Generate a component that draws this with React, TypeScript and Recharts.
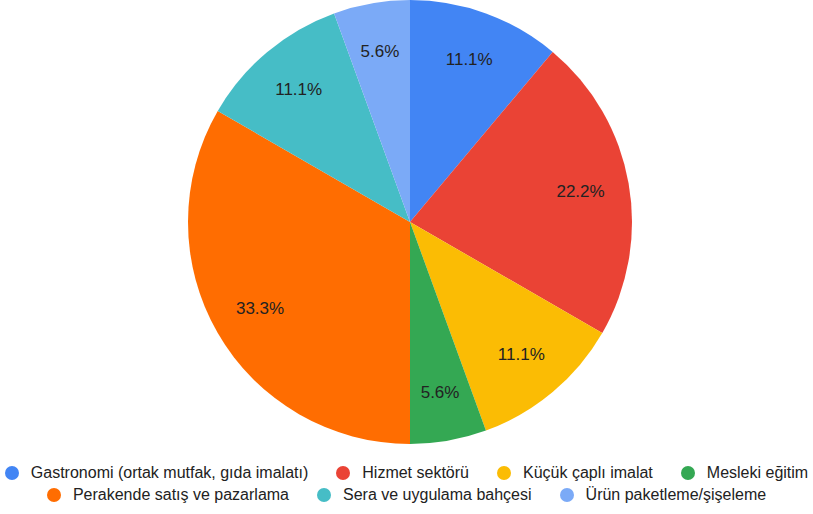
import React from 'react';
import { PieChart, Pie, Cell, Legend } from 'recharts';

const categories = [
  'Gastronomi (ortak mutfak, gıda imalatı)',
  'Hizmet sektörü',
  'Küçük çaplı imalat',
  'Mesleki eğitim',
  'Perakende satış ve pazarlama',
  'Sera ve uygulama bahçesi',
  'Ürün paketleme/şişeleme',
];
const counts = [2, 4, 2, 1, 6, 2, 1];
const colors = ['#4285f4', '#ea4335', '#fbbc04', '#34a853', '#ff6d01', '#46bdc6', '#7baaf7'];

const data = categories.map((name, i) => ({ name, value: counts[i] }));
const total = counts.reduce((a, b) => a + b, 0);

const RADIAN = Math.PI / 180;
const FONT = 'Liberation Sans, Arial, sans-serif';

const renderLabel = (props: any) => {
  const { cx, cy, midAngle, outerRadius, value } = props;
  const r = outerRadius * 0.78;
  const x = cx + r * Math.cos(-midAngle * RADIAN);
  const y = cy + r * Math.sin(-midAngle * RADIAN);
  return (
    <text
      x={x}
      y={y}
      fill="#222"
      fontSize={17}
      fontFamily={FONT}
      textAnchor="middle"
      dominantBaseline="central"
    >
      {((value / total) * 100).toFixed(1) + '%'}
    </text>
  );
};

const renderLegend = () => (
  <div
    style={{
      display: 'flex',
      flexWrap: 'wrap',
      justifyContent: 'center',
      width: 813,
      columnGap: 28,
      rowGap: 3,
      fontSize: 16,
      color: '#222',
      fontFamily: FONT,
    }}
  >
    {categories.map((c, i) => (
      <div key={c} style={{ display: 'flex', alignItems: 'center', lineHeight: '19px' }}>
        <span
          style={{
            width: 14,
            height: 14,
            borderRadius: '50%',
            background: colors[i],
            display: 'inline-block',
            marginRight: 12,
          }}
        />
        <span>{c}</span>
      </div>
    ))}
  </div>
);

export default function App() {
  return (
    <div style={{ position: 'absolute', left: 0, top: 0, width: 813, height: 514, background: '#fff' }}>
      <PieChart width={813} height={514} margin={{ top: 0, right: 0, bottom: 0, left: 0 }}>
        <Pie
          data={data}
          dataKey="value"
          nameKey="name"
          cx={410}
          cy={222}
          outerRadius={222}
          startAngle={90}
          endAngle={-270}
          stroke="none"
          label={renderLabel}
          labelLine={false}
          isAnimationActive={false}
        >
          {data.map((d, i) => (
            <Cell key={d.name} fill={colors[i]} />
          ))}
        </Pie>
        <Legend
          content={renderLegend}
          wrapperStyle={{ position: 'absolute', left: 0, top: 463, width: 813 }}
        />
      </PieChart>
    </div>
  );
}
